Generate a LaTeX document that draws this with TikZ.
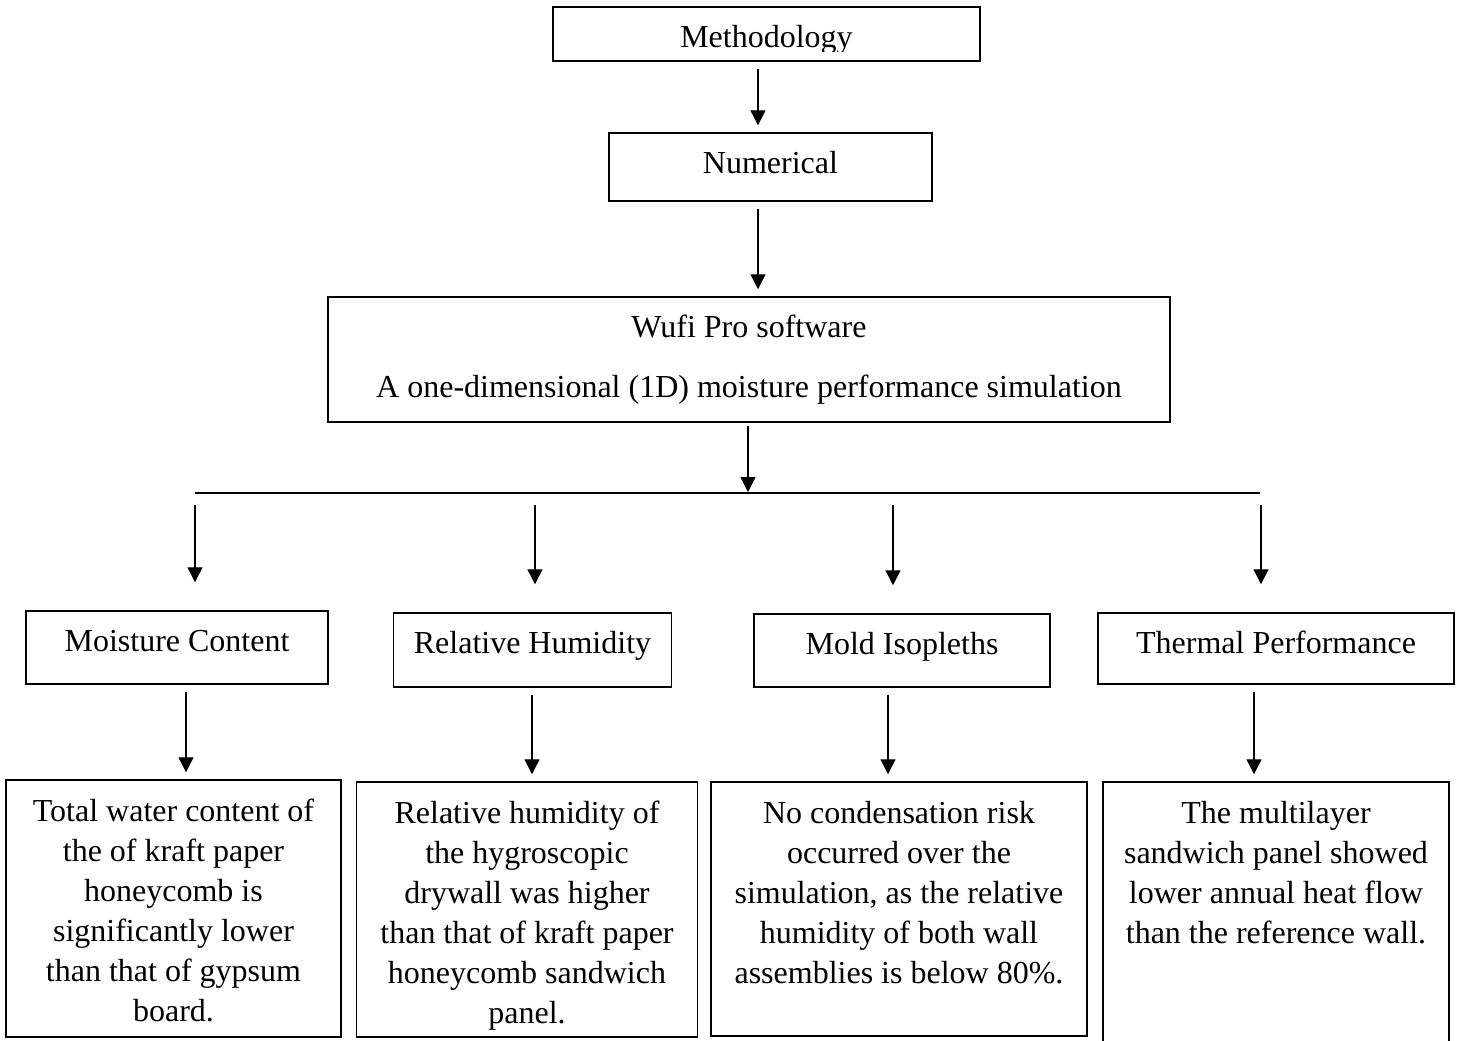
\documentclass[tikz,border=0pt]{standalone}
\usepackage{fontspec}
\setmainfont{Liberation Serif}
\usetikzlibrary{arrows.meta}

% text of a box, set from its top edge
\newcommand{\boxtext}[4][20pt]{\parbox[c][#2][t]{#3}{\centering\rule{0pt}{#1}#4}}

\begin{document}
\begin{tikzpicture}[x=0.5pt,y=-0.5pt,
  font=\fontsize{16}{20}\selectfont,
  box/.style={draw,line width=0.75pt,inner sep=0pt},
  arr/.style={-{Triangle[length=7.5pt,width=7.5pt]},line width=0.65pt,
    shorten <=3.5pt,shorten >=3.5pt}]
  \useasboundingbox (0,0) rectangle (1461,1040);
  % Methodology (descenders cut by the box)
  \node[box,minimum width=213.5pt,minimum height=27pt] (meth) at (766.5,34) {};
  \begin{scope}
    \clip (meth.north west) rectangle (980,51);
    \node[inner sep=0pt] (methtxt) at (meth) {\boxtext{27pt}{213.5pt}{Methodology}};
  \end{scope}
  \node[box] (num) at (770.5,167) {\boxtext{34pt}{161.5pt}{Numerical}};
  \node[box] (wufi) at (749,359.5) {\boxtext{62.5pt}{421pt}{Wufi Pro software\\[10pt]
    A one-dimensional (1D) moisture performance simulation}};
  % results
  \node[box] (mc) at (177,647.5) {\boxtext{36.5pt}{151pt}{Moisture Content}};
  \node[box] (rh) at (532.5,650) {\boxtext{37pt}{139pt}{Relative Humidity}};
  \node[box] (mi) at (902,650.5) {\boxtext{36.5pt}{148pt}{Mold Isopleths}};
  \node[box] (tp) at (1276,648.5) {\boxtext{35.5pt}{178pt}{Thermal Performance}};
  % findings
  \node[box] (mcres) at (173.5,908.5) {\boxtext[20.5pt]{128.5pt}{167.5pt}{Total water content of\\
    the of kraft paper\\honeycomb is\\significantly lower\\than that of gypsum\\board.}};
  \node[box] (rhres) at (527,909.5) {\boxtext[20.5pt]{127.5pt}{170.5pt}{Relative humidity of\\
    the hygroscopic\\drywall was higher\\than that of kraft paper\\honeycomb sandwich\\panel.}};
  \node[box] (mires) at (899,909) {\boxtext[20.5pt]{127pt}{188pt}{No condensation risk\\
    occurred over the\\simulation, as the relative\\humidity of both wall\\assemblies is below 80\%.}};
  \node[box] (tpres) at (1276,914) {\boxtext[20.5pt]{132pt}{173pt}{The multilayer\\
    sandwich panel showed\\lower annual heat flow\\than the reference wall.}};
  % arrows down the middle
  \coordinate (spine) at (758,0);
  \draw[arr] (meth.south -| spine) -- (num.north -| spine);
  \draw[arr] (num.south -| spine) -- (wufi.north -| spine);
  % branching line
  \coordinate (busl) at (195,493);
  \coordinate (busr) at (1260,493);
  \coordinate (wdrop) at (748,493);
  \draw[line width=0.9pt] (busl) -- (busr);
  \draw[arr,shorten <=1.5pt,shorten >=0.5pt] (wufi.south -| wdrop) -- (wdrop);
  \foreach \n/\x in {mc/195,rh/535,mi/893,tp/1261}{
    \coordinate (drop) at (\x,493);
    \draw[arr,shorten <=6pt,shorten >=14pt] (drop) -- (drop |- \n.north);
  }
  \foreach \a/\b/\x in {mc/mcres/186,rh/rhres/532,mi/mires/888,tp/tpres/1254}{
    \coordinate (col) at (\x,0);
    \draw[arr] (\a.south -| col) -- (\b.north -| col);
  }
\end{tikzpicture}
\end{document}
